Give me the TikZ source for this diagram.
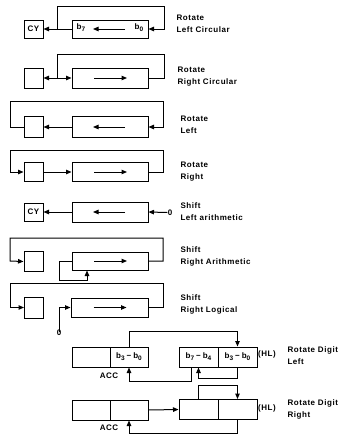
\documentclass[tikz,border=0pt]{standalone}
\usepackage{fontspec}
\setmainfont{Liberation Sans}
\newfontfamily\lblfont[LetterSpace=7]{Liberation Sans}
\usetikzlibrary{arrows.meta}
\newcommand{\bsub}[1]{b\raisebox{-0.45ex}{\fontsize{6.5}{7}\selectfont #1}}
\newcommand{\dsh}{\kern2pt−\kern2pt}
\tikzset{
  every path/.style={line width=1pt},
  arr/.style={-{Triangle[length=5.5pt,width=4.5pt]}},
  reg/.style={draw,line width=1pt,inner sep=0pt,minimum width=76pt,minimum height=19pt},
  cell/.style={draw,line width=1pt,inner sep=0pt,minimum width=19pt,minimum height=19pt,font=\lblfont\bfseries\fontsize{8}{9}\selectfont},
  half/.style={draw,line width=1pt,inner sep=0pt,minimum width=38pt,minimum height=20pt,font=\lblfont\bfseries\fontsize{8}{9}\selectfont},
  lbl/.style={anchor=west,align=left,inner sep=0pt,font=\lblfont\bfseries\fontsize{8}{12}\selectfont},
  small/.style={inner sep=0pt,font=\lblfont\bfseries\fontsize{8}{9}\selectfont}
}
\begin{document}
\begin{tikzpicture}[x=1pt,y=-1pt]
\useasboundingbox[fill=white] (0,0) rectangle (348,437);

% Row 1: Rotate Left Circular
\node[cell,minimum height=18pt] (cy1) at (33.5,29) {CY};
\node[reg,minimum height=18pt] (reg1) at (110,29) {};
\node[small] (b7a) at (81,28) {\bsub{7}};
\node[small] (b0a) at (139,28) {\bsub{0}};
\coordinate (j1) at (57,29);
\draw[arr] (reg1.west) -- (cy1.east);
\draw[arr] (j1) |- (164,6) |- (reg1.east);
\draw[arr] ([xshift=15pt]reg1.center) -- ([xshift=-17pt]reg1.center);
\node[lbl] (t1) at (176,23.5) {Rotate\\Left Circular};

% Row 2: Rotate Right Circular
\node[cell,minimum height=20pt] (bx2) at (33.5,78) {};
\node[reg,minimum height=20pt] (reg2) at (110,78) {};
\coordinate (j2) at (57,78);
\draw[arr] (j2) -- (bx2.east);
\draw[arr] (j2) -- (reg2.west);
\draw (reg2.east) -| (164,54) -| (j2);
\draw[arr] ([xshift=-16pt]reg2.center) -- ([xshift=17pt]reg2.center);
\node[lbl] (t2) at (177,76.5) {Rotate\\Right Circular};

% Row 3: Rotate Left
\node[cell,minimum height=21pt] (bx3) at (33.5,127) {};
\node[reg,minimum height=21pt] (reg3) at (110,127) {};
\draw[arr] (reg3.west) -- (bx3.east);
\draw[arr] (bx3.west) -| (10,101) -| (163,127) -- (reg3.east);
\draw[arr] ([xshift=15pt]reg3.center) -- ([xshift=-17pt]reg3.center);
\node[lbl] (t3) at (180,124.5) {Rotate\\Left};

% Row 4: Rotate Right
\node[cell,minimum height=19pt] (bx4) at (33.5,172) {};
\node[reg,minimum height=19pt] (reg4) at (110,172) {};
\draw[arr] (bx4.east) -- (reg4.west);
\draw[arr] (reg4.east) -| (163,150) -| (10,172) -- (bx4.west);
\draw[arr] ([xshift=-16pt]reg4.center) -- ([xshift=17pt]reg4.center);
\node[lbl] (t4) at (180,172) {Rotate\\Right};

% Row 5: Shift Left arithmetic
\node[cell,minimum height=18pt] (cy5) at (33.5,212) {CY};
\node[reg,minimum height=20pt] (reg5) at (110,212) {};
\node[small] (z5) at (170,212.5) {0};
\draw[arr] (reg5.west) -- (cy5.east);
\draw[arr] (z5.west) -- (reg5.east);
\draw[arr] ([xshift=15pt]reg5.center) -- ([xshift=-17pt]reg5.center);
\node[lbl] (t5) at (180,211.5) {Shift\\Left arithmetic};

% Row 6: Shift Right Arithmetic
\node[cell,minimum height=20pt] (bx6) at (33.5,261.5) {};
\node[reg,minimum height=18pt] (reg6) at (110,261) {};
\draw[arr] (reg6.east) -| (163,238) -| (10,261) -- (bx6.west);
\draw[arr] (reg6.west) -| (59,280) -| ([xshift=-23pt]reg6.south);
\draw[arr] ([xshift=-16pt]reg6.center) -- ([xshift=17pt]reg6.center);
\node[lbl] (t6) at (180,256.5) {Shift\\Right Arithmetic};

% Row 7: Shift Right Logical
\node[cell,minimum height=21pt] (bx7) at (34,307.5) {};
\node[reg,minimum height=19pt,minimum width=77pt] (reg7) at (109.5,307.5) {};
\draw[arr] (reg7.east) -| (163,283) -| (10,307.5) -- (bx7.west);
\node[small] (z7) at (59,333) {0};
\draw[arr] ([yshift=-2pt]z7.north) |- (reg7.west);
\draw[arr] ([xshift=-16pt]reg7.center) -- ([xshift=17pt]reg7.center);
\node[lbl] (t7) at (180,304) {Shift\\Right Logical};

% Row 8: Rotate Digit Left
\node[half] (acc8a) at (91,357) {};
\node[half] (acc8b) at (129,357) {\bsub{3}\dsh\bsub{0}};
\node[small] (acc8l) at (109,376) {ACC};
\node[half,minimum width=39pt] (hl8a) at (198.5,357) {\bsub{7}\dsh\bsub{4}};
\node[half,minimum width=39pt] (hl8b) at (237.5,357) {\bsub{3}\dsh\bsub{0}};
\node[small] (hl8l) at (267,354) {(HL)};
\node[lbl] (t8) at (287,356) {Rotate Digit\\Left};
\draw[arr] (acc8b.north) -- ++(0,-15) -| (hl8b.north);
\draw[arr] ([xshift=-7pt]hl8a.south) -- ++(0,14) -| (acc8b.south);
\draw[arr] (hl8b.south) -- ++(0,11) -| (hl8a.south);

% Row 9: Rotate Digit Right
\node[half] (acc9a) at (91,410) {};
\node[half] (acc9b) at (129,410) {};
\node[small] (acc9l) at (109,428) {ACC};
\node[half,minimum width=39pt] (hl9a) at (198.5,409.5) {};
\node[half,minimum width=39pt] (hl9b) at (237.5,409.5) {};
\node[small] (hl9l) at (267,408) {(HL)};
\node[lbl] (t9) at (287,409) {Rotate Digit\\Right};
\draw[arr] (acc9b.east) -- (hl9a.west);
\draw[arr] (hl9a.north) -- ++(0,-14) -| (hl9b.north);
\draw[arr] (hl9b.south) -- ++(0,13.5) -| (acc9b.south);
\end{tikzpicture}
\end{document}
